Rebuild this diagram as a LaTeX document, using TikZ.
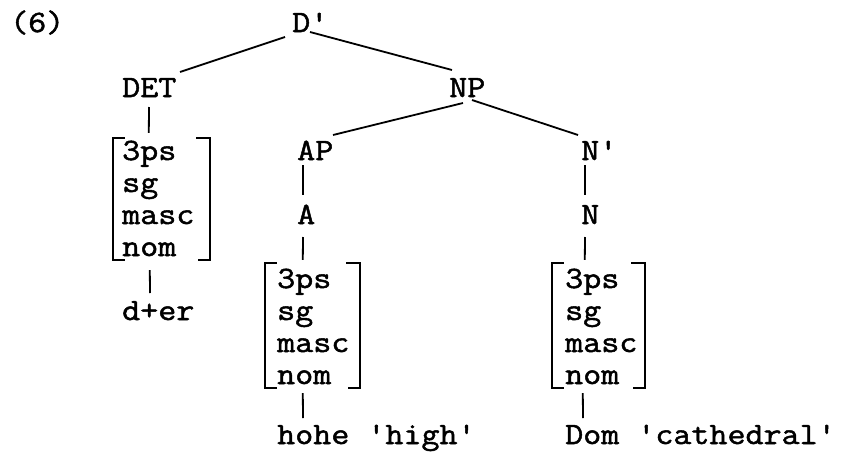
\documentclass[tikz,border=0pt]{standalone}
\usepackage{fontspec}
\setmonofont{Latin Modern Mono}[FakeStretch=1.13, FakeBold=1.6]
\usetikzlibrary{calc,fit}
\begin{document}
\begin{tikzpicture}[x=1pt,y=-1pt,
  lbl/.style={anchor=base west, inner sep=0pt, font=\ttfamily\fontsize{31}{32}\selectfont},
  edge/.style={line width=1.8pt},
  brk/.style={line width=2.2pt, line join=miter},
  fbox/.style={inner sep=0pt}]
\fill[white] (0,0) rectangle (847,453);
\useasboundingbox (0,0) rectangle (847,453);

% example number and upper tree labels
\node[lbl] (num) at (10,32) {(6)};
\node[lbl] (Dp)  at (292,32) {D'};
\node[lbl] (DET) at (122,97) {DET};
\node[lbl] (NP)  at (449,97) {NP};
\node[lbl] (AP)  at (297,160) {AP};
\node[lbl] (Np)  at (581,160) {N'};
\node[lbl] (A)   at (297,224) {A};
\node[lbl] (N)   at (581,224) {N};

% feature matrices
\node[fbox, fit={(113,138) (210,260)}] (fDET) {};
\node[fbox, fit={(265,263) (360,388)}] (fA) {};
\node[fbox, fit={(552,263) (645,388)}] (fN) {};
\foreach \m in {fDET,fA,fN}{
  \draw[brk] ($(\m.north west)+(12,0)$) -- (\m.north west) -- (\m.south west) -- ($(\m.south west)+(12,0)$);
  \draw[brk] ($(\m.north east)+(-14,0)$) -- (\m.north east) -- (\m.south east) -- ($(\m.south east)+(-12,0)$);
}
\node[lbl] (d1) at (122,160) {3ps};
\node[lbl] (d2) at (122,192) {sg};
\node[lbl] (d3) at (122,224) {masc};
\node[lbl] (d4) at (122,256) {nom};
\node[lbl] (a1) at (277,288) {3ps};
\node[lbl] (a2) at (277,320) {sg};
\node[lbl] (a3) at (277,352) {masc};
\node[lbl] (a4) at (277,384) {nom};
\node[lbl] (n1) at (565,288) {3ps};
\node[lbl] (n2) at (565,320) {sg};
\node[lbl] (n3) at (565,352) {masc};
\node[lbl] (n4) at (565,384) {nom};

% word forms
\node[lbl] (der)  at (122,320) {d+er};
\node[lbl] (hohe) at (277,444) {hohe 'high'};
\node[lbl] (Dom)  at (565,444) {Dom 'cathedral'};

% branches
\draw[edge] ($(Dp.base west)+(-7,5)$) -- ($(DET.base west)+(58,-25)$);
\draw[edge] ($(Dp.base west)+(18,0)$) -- ($(NP.base west)+(3,-27)$);
\draw[edge] ($(NP.base west)+(14,6)$) -- ($(AP.base west)+(36,-25)$);
\draw[edge] ($(NP.base west)+(23,3)$) -- ($(Np.base west)+(-3,-25)$);
\draw[edge] ($(DET.base west)+(27,10)$) -- ($(fDET.north west)+(36,-5)$);
\draw[edge] ($(fDET.south west)+(37,10)$) -- ($(der.base west)+(28,-27)$);
\draw[edge] ($(AP.base west)+(6,5)$) -- ($(A.base west)+(6,-29)$);
\draw[edge] ($(A.base west)+(6,13)$) -- ($(fA.north west)+(38,-3)$);
\draw[edge] ($(fA.south west)+(38,5)$) -- ($(hohe.base west)+(26,-26)$);
\draw[edge] ($(Np.base west)+(4,5)$) -- ($(N.base west)+(4,-29)$);
\draw[edge] ($(N.base west)+(4,13)$) -- ($(fN.north west)+(33,-3)$);
\draw[edge] ($(fN.south west)+(31,5)$) -- ($(Dom.base west)+(18,-26)$);
\end{tikzpicture}
\end{document}
